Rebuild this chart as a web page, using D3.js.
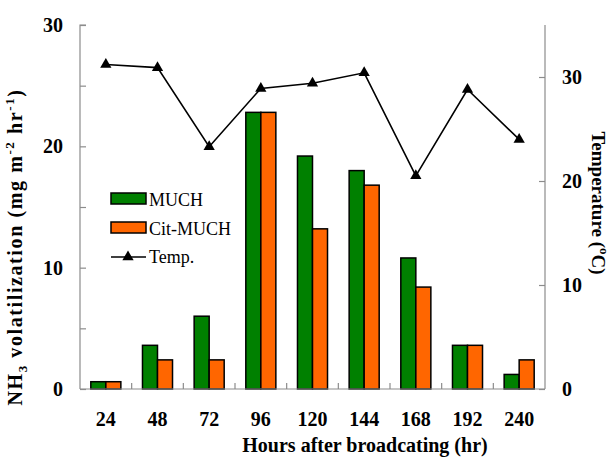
<!DOCTYPE html>
<html>
<head>
<meta charset="utf-8">
<script src="https://cdn.jsdelivr.net/npm/d3@7"></script>
<style>
  body { margin: 0; background: #fff; }
  svg text { font-family: 'Liberation Serif', 'Times New Roman', Times, 'DejaVu Serif', serif; }
</style>
</head>
<body>
<svg id="chart" width="611" height="457"></svg>
<script>
const categories = ["24", "48", "72", "96", "120", "144", "168", "192", "240"];
const muchValues = [0.6, 3.6, 6.0, 22.8, 19.2, 18.0, 10.8, 3.6, 1.2];
const citMuchValues = [0.6, 2.4, 2.4, 22.8, 13.2, 16.8, 8.4, 3.6, 2.4];
const tempValues = [31.2, 30.9, 23.3, 28.9, 29.4, 30.4, 20.5, 28.8, 24.0];
const leftTicks = [0, 5, 10, 15, 20, 25, 30];
const leftLabels = [0, 10, 20, 30];
const rightTicks = [0, 10, 20, 30];
const seriesNames = ["MUCH", "Cit-MUCH"];
const seriesColors = ["#008000", "#FF6600"];

const FONT = "'Liberation Serif', 'Times New Roman', Times, 'DejaVu Serif', serif";
const svg = d3.select("#chart").attr("font-family", FONT);
const L = 80, R = 545, T = 25, B = 389;

const x = d3.scaleBand().domain(categories).range([L, R]).paddingInner(0).paddingOuter(0);
const x1 = d3.scaleBand().domain(seriesNames).range([0, x.bandwidth()]).paddingInner(0).paddingOuter(0.72);
const yL = d3.scaleLinear().domain([0, 30]).range([B, T]);
const yR = d3.scaleLinear().domain([0, 35]).range([B, T]);

const axisColor = "#8c8c8c";

// Bars
const data = categories.map((c, i) => ({ c, vals: [muchValues[i], citMuchValues[i]] }));
const g = svg.append("g").selectAll("g").data(data).join("g")
  .attr("transform", d => `translate(${x(d.c)},0)`);
g.selectAll("rect").data(d => d.vals.map((v, j) => ({ v, name: seriesNames[j], color: seriesColors[j] })))
  .join("rect")
  .attr("x", d => x1(d.name))
  .attr("width", x1.bandwidth())
  .attr("y", d => yL(d.v))
  .attr("height", d => yL(0) - yL(d.v))
  .attr("fill", d => d.color)
  .attr("stroke", "#000")
  .attr("stroke-width", 1.5);

// Left axis
const leftAxis = d3.axisRight(yL).tickValues(leftTicks).tickSize(6).tickFormat("");
const la = svg.append("g").attr("transform", `translate(${L},0)`).call(leftAxis);
la.select(".domain").attr("stroke", axisColor).attr("stroke-width", 1.2).attr("d", `M6,${T}H0V${B}`);
la.selectAll(".tick line").attr("stroke", axisColor).attr("stroke-width", 1.2);
svg.append("g").selectAll("text").data(leftLabels).join("text")
  .attr("x", 63).attr("y", d => yL(d) + 7)
  .attr("text-anchor", "end").attr("font-weight", "bold").attr("font-size", 20)
  .attr("font-family", FONT)
  .text(d => d);

// Right axis
const rightAxis = d3.axisLeft(yR).tickValues(rightTicks).tickSize(6).tickFormat("");
const ra = svg.append("g").attr("transform", `translate(${R},0)`).call(rightAxis);
ra.select(".domain").attr("stroke", axisColor).attr("stroke-width", 1.2).attr("d", `M0,${T}V${B}`);
ra.selectAll(".tick line").attr("stroke", axisColor).attr("stroke-width", 1.2);
svg.append("g").selectAll("text").data(rightTicks).join("text")
  .attr("x", 562).attr("y", d => yR(d) + 7)
  .attr("text-anchor", "start").attr("font-weight", "bold").attr("font-size", 20)
  .attr("font-family", FONT)
  .text(d => d);

// Bottom axis
const bottomAxis = d3.axisTop(x).tickSize(0).tickFormat("");
const ba = svg.append("g").attr("transform", `translate(0,${B})`).call(bottomAxis);
ba.select(".domain").attr("stroke", axisColor).attr("stroke-width", 1.2).attr("d", `M${L},0H${R}`);
svg.append("g").selectAll("line").data(categories.slice(1)).join("line")
  .attr("x1", d => x(d)).attr("x2", d => x(d))
  .attr("y1", B).attr("y2", B - 6)
  .attr("stroke", axisColor).attr("stroke-width", 1.2);
svg.append("g").selectAll("text").data(categories).join("text")
  .attr("x", d => x(d) + x.bandwidth() / 2).attr("y", 426)
  .attr("text-anchor", "middle").attr("font-weight", "bold").attr("font-size", 20)
  .attr("font-family", FONT)
  .text(d => d);

// Temperature line
const cx = d => x(d) + x.bandwidth() / 2;
const line = d3.line().x((d, i) => cx(categories[i])).y(d => yR(d));
svg.append("path").datum(tempValues).attr("d", line)
  .attr("fill", "none").attr("stroke", "#000").attr("stroke-width", 1.6);
const tri = d3.symbol().type(d3.symbolTriangle).size(55);
svg.append("g").selectAll("path").data(tempValues).join("path")
  .attr("transform", (d, i) => `translate(${cx(categories[i])},${yR(d)})`)
  .attr("d", tri).attr("fill", "#000");

// Axis titles
svg.append("text")
  .attr("transform", "translate(22,247) rotate(-90)")
  .attr("text-anchor", "middle").attr("font-weight", "bold").attr("font-size", 20)
  .attr("letter-spacing", 1.6)
  .attr("font-family", FONT)
  .html('NH<tspan font-size="13" dy="5">3</tspan><tspan dy="-5"> volatilization (mg m</tspan><tspan font-size="13" dy="-8">-2</tspan><tspan dy="8"> hr</tspan><tspan font-size="13" dy="-8">-1</tspan><tspan dy="8">)</tspan>');

svg.append("text")
  .attr("transform", "translate(592,203) rotate(90)")
  .attr("text-anchor", "middle").attr("font-weight", "bold").attr("font-size", 19)
  .attr("font-family", FONT)
  .html('Temperature (<tspan font-size="13" dy="-8">o</tspan><tspan dy="8">C)</tspan>');

svg.append("text")
  .attr("x", 365).attr("y", 452)
  .attr("text-anchor", "middle").attr("font-weight", "bold").attr("font-size", 20)
  .attr("font-family", FONT)
  .text("Hours after broadcating (hr)");

// Legend
const lg = svg.append("g");
seriesNames.forEach((n, i) => {
  const yy = 193 + i * 29;
  lg.append("rect").attr("x", 111).attr("y", yy).attr("width", 35).attr("height", 11)
    .attr("fill", seriesColors[i]).attr("stroke", "#000").attr("stroke-width", 1.5);
  lg.append("text").attr("x", 149).attr("y", yy + 13).attr("font-size", 18)
    .attr("font-family", FONT).text(n);
});
lg.append("line").attr("x1", 111).attr("x2", 146).attr("y1", 257).attr("y2", 257)
  .attr("stroke", "#000").attr("stroke-width", 1.6);
lg.append("path").attr("transform", "translate(128,257)").attr("d", tri).attr("fill", "#000");
lg.append("text").attr("x", 149).attr("y", 263).attr("font-size", 18)
  .attr("font-family", FONT).text("Temp.");
</script>
</body>
</html>
